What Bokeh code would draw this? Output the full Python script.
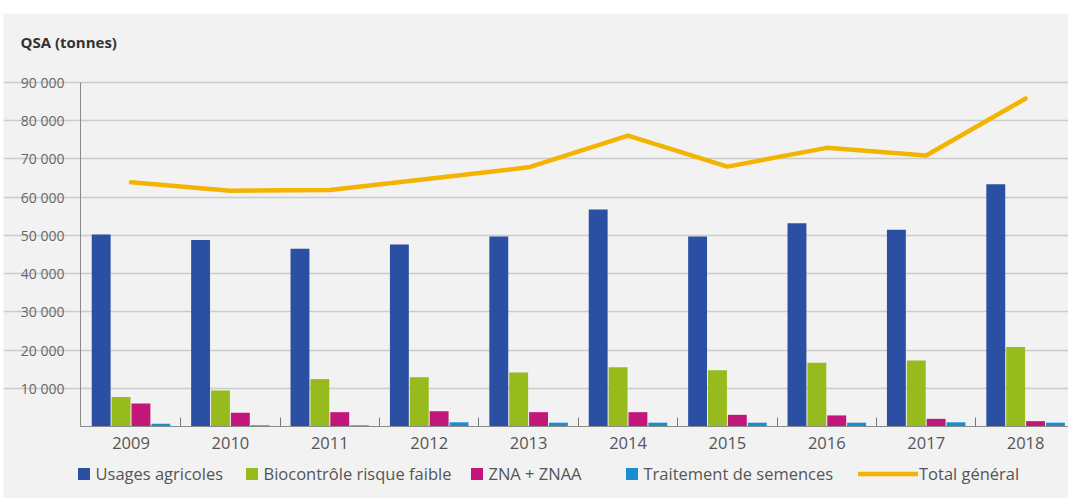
from bokeh.plotting import figure
from bokeh.models import (ColumnDataSource, Range1d, FixedTicker, Legend, LegendItem, Label, Spacer)
from bokeh.layouts import column, row
from bokeh.transform import dodge
from bokeh.embed import file_html
from bokeh.resources import INLINE

years = [2009, 2010, 2011, 2012, 2013, 2014, 2015, 2016, 2017, 2018]
usages_agricoles = [50200, 48800, 46500, 47600, 49700, 56800, 49700, 53200, 51500, 63400]
biocontrole = [7700, 9400, 12400, 12900, 14100, 15500, 14700, 16700, 17300, 20800]
zna_znaa = [6000, 3600, 3750, 4000, 3750, 3750, 3050, 2900, 2000, 1400]
semences = [700, 300, 300, 1100, 1000, 1000, 1000, 1000, 1100, 1000]
total_general = [63900, 61700, 61900, 64800, 67800, 76100, 68000, 72900, 70900, 85800]

y_ticks = [10000, 20000, 30000, 40000, 50000, 60000, 70000, 80000, 90000]
y_tick_labels = ["10 000", "20 000", "30 000", "40 000", "50 000",
                 "60 000", "70 000", "80 000", "90 000"]
series_names = ["Usages agricoles", "Biocontrôle risque faible", "ZNA + ZNAA",
                "Traitement de semences", "Total général"]
title_text = "QSA (tonnes)"

BG = "#f2f2f2"
FONT = "Open Sans"
colors = ["#2b4fa2", "#97bb1c", "#c2167b", "#1a8fd0", "#f2b400"]

# ---- page geometry (pixels) ----
TOP_GAP, LEFT_GAP = 13, 3
FIG_W, FIG_H = 1068 - LEFT_GAP, 498 - TOP_GAP
AXIS_PX = 80          # page x of the value axis
FIRST_CAT_PX = 130.5  # page x of first category centre
CAT_PX = 99.4         # px per category
TOP_PX, ZERO_PX = 82, 426   # page y of 90 000 and of 0
Y_MAX = 90000
LEGEND_X = [75.5, 243.5, 468.5, 623.5, 858]   # page x of each legend entry

ppu_y = (ZERO_PX - TOP_PX) / Y_MAX
y_start = -(498 - ZERO_PX) / ppu_y
y_end = Y_MAX + (TOP_PX - TOP_GAP) / ppu_y
x_start = years[0] - (FIRST_CAT_PX - LEFT_GAP) / CAT_PX
x_end = x_start + FIG_W / CAT_PX
x_axis_at = years[0] - (FIRST_CAT_PX - AXIS_PX) / CAT_PX

src = ColumnDataSource(dict(year=years, u=usages_agricoles, b=biocontrole,
                            z=zna_znaa, s=semences, t=total_general))

p = figure(width=FIG_W, height=FIG_H, output_backend="svg", toolbar_location=None,
           x_range=Range1d(x_start, x_end), y_range=Range1d(y_start, y_end),
           background_fill_color=BG, border_fill_color=BG,
           min_border=0, outline_line_color=None)

w = 0.19
cols = ["u", "b", "z", "s"]
offs = [-0.3, -0.1, 0.1, 0.3]
bar_r = []
for c, o, col in zip(cols, offs, colors[:4]):
    r = p.vbar(x=dodge("year", o), top=c, width=w, bottom=0, source=src,
               fill_color=col, line_color=None)
    bar_r.append(r)

line_r = p.line(x="year", y="t", source=src, line_color=colors[4], line_width=4.5,
                line_join="round", line_cap="round")

# ---- axes ----
p.xaxis.fixed_location = 0
p.xaxis.bounds = (x_axis_at, x_end)
p.xaxis.ticker = FixedTicker(ticks=years, minor_ticks=[y + 0.5 for y in years[:-1]])
p.xaxis.major_tick_line_color = None
p.xaxis.minor_tick_in = 9
p.xaxis.minor_tick_out = 0
p.xaxis.minor_tick_line_color = "#777777"
p.xaxis.axis_line_color = "#8a8a8a"
p.xaxis.major_label_standoff = 4
p.xaxis.major_label_text_font = FONT
p.xaxis.major_label_text_font_size = "16.5px"
p.xaxis.major_label_text_color = "#555555"

p.yaxis.fixed_location = x_axis_at
p.yaxis.bounds = (0, Y_MAX)
p.yaxis.ticker = FixedTicker(ticks=y_ticks)
p.yaxis.major_label_overrides = {t: l for t, l in zip(y_ticks, y_tick_labels)}
p.yaxis.major_tick_line_color = None
p.yaxis.minor_tick_line_color = None
p.yaxis.axis_line_color = "#8a8a8a"
p.yaxis.major_label_standoff = 10
p.yaxis.major_label_text_font = FONT
p.yaxis.major_label_text_font_size = "14px"
p.yaxis.major_label_text_color = "#666666"

p.xgrid.grid_line_color = None
p.ygrid.grid_line_color = "#cbcbcb"
p.ygrid.grid_line_width = 1.5
p.ygrid.bounds = (x_axis_at, x_end)

# ---- title ----
p.add_layout(Label(x=20 - LEFT_GAP, y=498 - 41, x_units="screen", y_units="screen",
                   text=title_text, text_font=FONT, text_font_size="15px",
                   text_font_style="bold", text_color="#333333",
                   text_baseline="middle", text_align="left"))

# ---- legends (one entry each, so every entry sits where the reference has it) ----
all_r = bar_r + [line_r]
for i, (name, r, lx) in enumerate(zip(series_names, all_r, LEGEND_X)):
    is_line = i == 4
    leg = Legend(items=[LegendItem(label=name, renderers=[r])],
                 orientation="horizontal", location=(lx - LEFT_GAP, 13),
                 glyph_width=60 if is_line else 15, glyph_height=15,
                 label_standoff=1 if is_line else 5,
                 padding=0, margin=0, border_line_color=None, background_fill_alpha=0,
                 label_text_font=FONT, label_text_font_size="16.5px",
                 label_text_color="#555555")
    p.add_layout(leg, "center")

layout = column(Spacer(width=1068, height=TOP_GAP),
                row(Spacer(width=LEFT_GAP, height=FIG_H), p, spacing=0),
                spacing=0)
open("out.html", "w").write(file_html(layout, INLINE))
